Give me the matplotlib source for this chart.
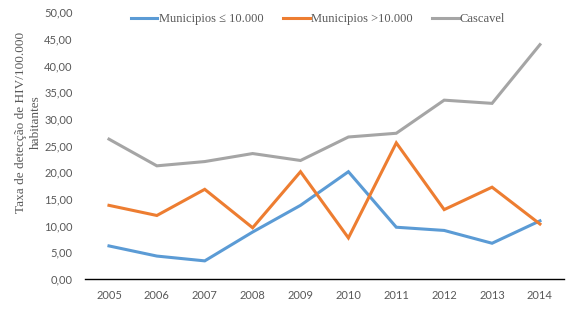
import matplotlib
matplotlib.use('Agg')
import matplotlib.pyplot as plt

plt.rcParams['font.family'] = ['Liberation Serif', 'DejaVu Serif']

# data
anos = ['2005', '2006', '2007', '2008', '2009', '2010', '2011', '2012', '2013', '2014']
menor_10mil = [6.2, 4.3, 3.4, 8.8, 13.8, 20.1, 9.7, 9.1, 6.7, 10.9]
maior_10mil = [13.8, 11.9, 16.8, 9.6, 20.1, 7.7, 25.5, 13.0, 17.2, 10.3]
cascavel = [26.2, 21.2, 22.0, 23.5, 22.2, 26.6, 27.3, 33.5, 32.9, 43.9]

txt = '#595959'

fig = plt.figure(figsize=(5.88, 3.09), dpi=100)
ax = fig.add_axes([0.1446, 0.097, 0.8144, 0.864])

x = range(len(anos))
ax.plot(x, menor_10mil, color='#5B9BD5', lw=2.2, label='Municipios \u2264 10.000', solid_joinstyle='miter')
ax.plot(x, maior_10mil, color='#ED7D31', lw=2.2, label='Municipios >10.000', solid_joinstyle='miter')
ax.plot(x, cascavel, color='#A5A5A5', lw=2.2, label='Cascavel', solid_joinstyle='miter')

ax.set_xlim(-0.5, 9.5)
ax.set_ylim(0, 50)
ax.set_xticks(list(x))
ax.set_xticklabels(anos)
ax.set_yticks(range(0, 51, 5))
ax.set_yticklabels(['%d,00' % v for v in range(0, 51, 5)])
ax.tick_params(axis='both', length=0, labelsize=8, colors=txt, pad=8)
ax.tick_params(axis='y', pad=9)
for lab in ax.get_xticklabels() + ax.get_yticklabels():
    lab.set_family(['Lato', 'DejaVu Sans'])

for s in ['top', 'right', 'left']:
    ax.spines[s].set_visible(False)
ax.spines['bottom'].set_color('black')
ax.spines['bottom'].set_linewidth(1)

ax.set_ylabel('Taxa de detecção de HIV/100.000\nhabitantes', fontsize=9.5, color=txt,
              linespacing=1.35)
ax.yaxis.set_label_coords(-0.09, 0.588)

leg = ax.legend(loc='center', bbox_to_anchor=(0.487, 0.974), ncol=3, frameon=False,
                fontsize=9, handlelength=2.1, handletextpad=0.1, columnspacing=1.6)
for t in leg.get_texts():
    t.set_color(txt)

plt.savefig('out.png', dpi=100)
